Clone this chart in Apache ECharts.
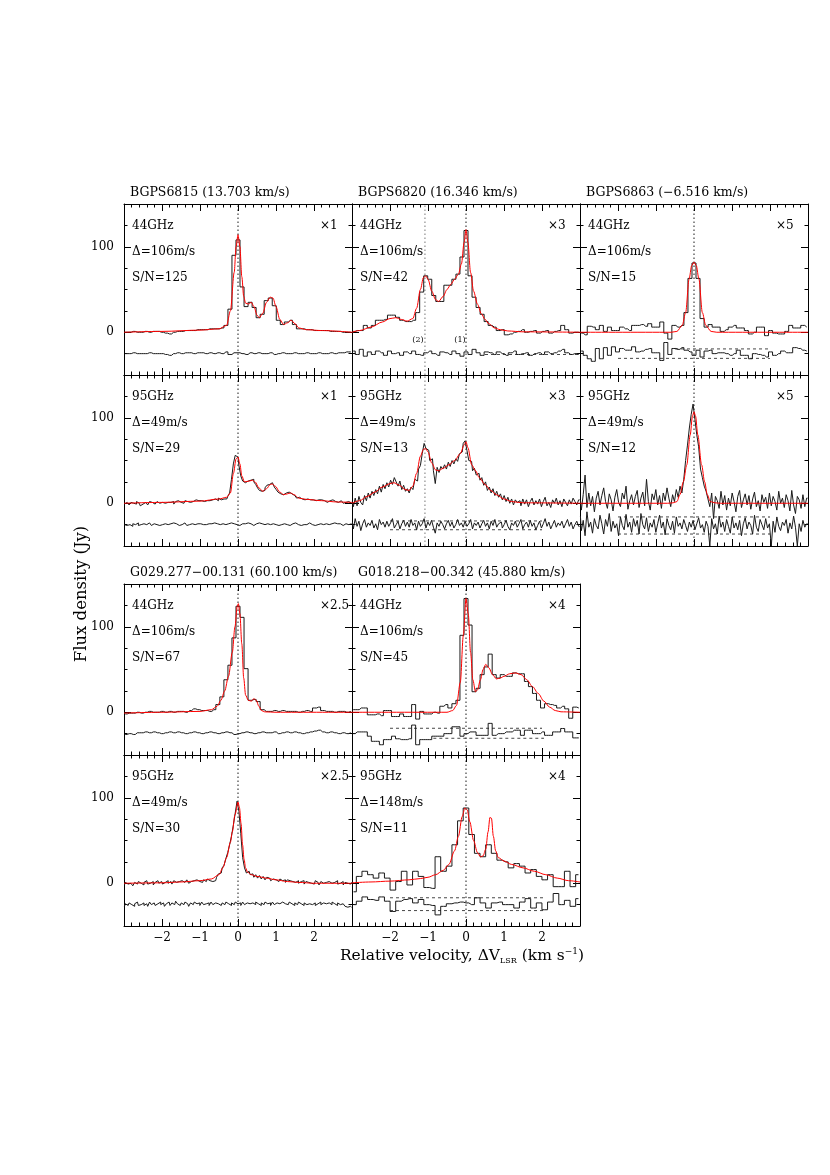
<!DOCTYPE html>
<html><head><meta charset="utf-8">
<script src="https://cdn.jsdelivr.net/npm/echarts@6.0.0/dist/echarts.min.js"></script>
<style>html,body{margin:0;padding:0;background:#fff}#c{width:830px;height:1175px}</style>
</head><body><div id="c"></div>
<script>
// ---- channel grids (start velocity, channel width, km/s) ----
const CH44 = [-2.968, 0.106];
const CH95 = [-2.989, 0.049];
const CH148 = [-2.96, 0.148];
const X_TICKS = [-2, -1, 0, 1, 2];
const Y_LABELS = [0, 100];

// ---- BGPS6815 44GHz ----
const p1Obs = [0,0,1,0,0,1,0,1,1,0, -1,-2,0,1,1,2,2,2,3,3, 3,4,4,4,5,8,27,90,108,53, 30,35,29,17,21,37,40,31,14,9, 12,14,9,4,4,3,3,2,2,2, 2,1,1,1,0,0,0];
const p1Res = [-25,-25,-24,-25,-25,-25,-24,-25,-25,-25, -26,-27,-25,-24,-25,-24,-24,-25,-24,-24, -25,-24,-25,-24,-25,-23,-26,-24,-24,-25, -26,-24,-25,-24,-25,-25,-24,-26,-25,-24, -25,-25,-24,-25,-25,-24,-25,-25,-24,-25, -25,-24,-25,-24,-24,-23,-23];
const p1Fit = [[-3,0],[-2,1],[-1,2.5],[-0.5,4],[-0.3,8],[-0.2,25],[-0.1,70],[-0.05,100],[0,114],[0.05,100],[0.1,65],[0.15,42],[0.2,34],[0.28,33],[0.35,35],[0.42,30],[0.5,20],[0.56,17],[0.65,22],[0.75,35],[0.85,41],[0.92,40],[1.0,30],[1.1,15],[1.2,9],[1.3,11],[1.4,14],[1.5,10],[1.6,5],[1.8,3],[2.2,2],[3,0]];

// ---- BGPS6820 44GHz ----
const p2Obs = [1,2,2,8,5,8,14,14,15,20, 20,17.5,14,12.5,12.5,14,23,47,66,62, 43,36,36,55,55,62,68,88,119,66, 41,29,21,12.5,8,6,2,3,-3,-2, 0,1,3,0,1,2,-1,1,2,-1, 1,2,8,3,-1,0,0];
const p2Res = [-22,-26,-20,-28,-23,-26,-22,-24,-27,-22, -25,-24,-27,-23,-25,-22,-26,-27,-24,-22, -25,-27,-23,-24,-26,-22,-25,-28,-23,-26, -20,-24,-27,-23,-24,-26,-23,-25,-27,-24, -22,-26,-25,-24,-27,-25,-24,-26,-23,-25, -24,-22,-20,-24,-26,-25,-26];
const p2Fit = [[-3,0],[-2.8,2],[-2.5,6],[-2.2,12],[-2.0,16],[-1.85,17],[-1.7,15],[-1.55,13],[-1.4,16],[-1.3,28],[-1.2,50],[-1.12,64],[-1.06,66],[-1.0,62],[-0.9,48],[-0.8,38],[-0.72,36],[-0.6,42],[-0.5,50],[-0.4,56],[-0.3,62],[-0.2,68],[-0.12,80],[-0.05,105],[0,120],[0.05,105],[0.12,70],[0.2,48],[0.3,33],[0.4,22],[0.5,15],[0.6,10],[0.75,5],[0.9,3],[1.1,1.5],[1.5,0.5],[3,0]];

// ---- BGPS6863 44GHz ----
const p3Obs = [-1,-3,7,6,3,8,1,6,2,2, 6,4,2,8,8,9,7,10,6,6, 12,-1,-8,8,6,8,23,63,81,63, 16,6,9,6,6,1,3,6,8,5, 5,2,-2,0,6,6,-4,2,-1,-2, -2,1,8,5,5,8,6];
const p3Res = [-22,-27,-31,-34,-19,-31,-18,-27,-17,-23, -19,-21,-21,-17,-23,-22,-20,-19,-24,-24, -33,-12,-26,-19,-20,-18,-21,-23,-27,-21, -29,-22,-21,-25,-24,-24,-25,-27,-25,-21, -27,-27,-31,-25,-26,-27,-29,-23,-27,-25, -22,-24,-24,-18,-19,-21,-22];
const p3Fit = [[-3,0],[-0.6,0],[-0.45,1],[-0.31,8],[-0.22,23],[-0.13,62],[-0.06,78],[0,82],[0.06,78],[0.13,62],[0.22,23],[0.31,8],[0.45,1],[0.6,0],[3,0]];

// ---- BGPS6815 95GHz ----
const p4Obs = [-1,1,0,-2,1,0,-1,2,0,-3, -1,1,0,-2,2,1,-1,0,2,0, 1,2,0,1,3,1,2,-1,2,3, 1,2,0,3,2,1,3,2,4,2, 3,3,4,2,3,5,3,4,4,5, 3,6,4,5,6,5,8,12,28,46, 56,54,44,32,26,24,26,28,27,28, 25,22,18,15,14,15,18,21,22,24, 22,19,16,13,11,10,10,12,13,12, 11,9,8,6,7,5,6,4,5,6, 4,4,5,3,4,2,4,3,3,1, 3,2,4,2,2,1,3,2,0,1, 2,0,0];
const p4Res = [-25,-26,-24,-25,-27,-24,-25,-23,-26,-25, -24,-26,-25,-23,-25,-26,-24,-25,-24,-26, -25,-23,-24,-25,-26,-24,-23,-25,-24,-26, -24,-25,-23,-24,-26,-25,-24,-23,-25,-24, -26,-24,-25,-23,-25,-24,-26,-24,-23,-25, -24,-25,-23,-24,-25,-26,-24,-23,-25,-24, -25,-23,-26,-24,-25,-24,-23,-25,-24,-26, -25,-24,-23,-25,-24,-25,-26,-24,-25,-23, -24,-25,-24,-26,-25,-23,-24,-25,-24,-26, -24,-25,-23,-25,-24,-26,-25,-24,-25,-23, -24,-25,-26,-24,-25,-24,-23,-25,-24,-26, -25,-24,-25,-23,-24,-25,-24,-26,-25,-24, -25,-25,-24];
const p4Fit = [[-3,0],[-2,1],[-1,2.5],[-0.5,5],[-0.3,7],[-0.2,12],[-0.12,35],[-0.05,52],[0,54],[0.05,46],[0.1,32],[0.17,25],[0.3,26],[0.38,27],[0.45,25],[0.55,18],[0.65,14],[0.75,17],[0.85,22],[0.9,22.5],[0.98,20],[1.1,13],[1.2,10],[1.3,11],[1.38,12],[1.48,10],[1.6,6],[1.8,4.5],[2.2,3],[2.6,1.5],[3,1]];

// ---- BGPS6820 95GHz ----
const p5Obs = [2,-4,6,-3,8,1,-2,9,3,12, 6,14,9,16,11,20,13,22,17,24, 19,27,22,30,25,20,26,16,21,14, 17,12,19,16,28,26,40,44,58,70, 64,62,50,52,38,23,42,36,43,40, 45,40,48,43,50,46,52,49,58,60, 70,73,62,50,49,38,41,33,35,27, 30,21,25,15,19,12,17,9,14,7, 11,4,9,2,7,0,5,-2,4,1, 3,-3,5,-1,4,-4,2,6,-2,3, -1,5,-4,2,7,-3,1,-5,4,0, 6,-2,3,-4,5,1,-3,4,-1,6, 2,-2,4];
const p5Res = [-22,-30,-18,-27,-21,-32,-24,-19,-28,-23, -26,-20,-29,-24,-31,-19,-25,-22,-28,-21, -27,-23,-18,-29,-25,-21,-30,-24,-20,-27, -22,-28,-19,-26,-23,-31,-21,-27,-24,-18, -29,-22,-26,-20,-28,-35,-23,-27,-21,-25, -30,-24,-20,-27,-22,-29,-25,-19,-26,-23, -28,-21,-27,-24,-19,-30,-23,-26,-22,-29, -24,-20,-27,-23,-30,-21,-26,-19,-28,-24, -22,-29,-25,-20,-27,-31,-23,-26,-21,-28, -24,-19,-30,-25,-22,-28,-20,-27,-23,-31, -26,-21,-29,-24,-18,-27,-22,-30,-25,-20, -28,-23,-26,-21,-29,-24,-19,-27,-22,-30, -25,-21,-27];
const p5Fit = [[-3,0],[-2.8,3],[-2.6,8],[-2.4,13],[-2.2,19],[-2.0,23],[-1.9,24],[-1.75,21],[-1.6,16],[-1.5,15],[-1.4,20],[-1.3,35],[-1.2,55],[-1.12,63],[-1.06,64],[-1.0,60],[-0.9,47],[-0.8,39],[-0.72,38],[-0.6,41],[-0.45,45],[-0.3,50],[-0.15,58],[-0.05,68],[0,72],[0.05,65],[0.15,45],[0.25,38],[0.35,30],[0.5,22],[0.65,15],[0.8,10],[1.0,5],[1.2,2],[1.5,0.5],[3,0]];

// ---- BGPS6863 95GHz ----
const p6Obs = [4,-8,10,33,-5,12,-3,8,-10,6, 14,-2,9,18,2,-6,11,4,-9,7, 16,1,-4,12,5,20,-7,3,10,-2, 8,15,-5,6,13,-3,28,2,-8,11, 4,16,-2,9,-6,12,3,18,6,-4, 10,2,16,7,20,12,28,50,68,88, 104,116,98,80,66,40,30,20,14,5, -4,12,-18,8,3,-6,14,-2,9,-8, 6,-3,12,2,-10,8,15,-5,4,11, -2,9,-7,5,13,-4,3,-9,10,1, 7,-6,12,-3,8,2,-8,14,0,6, -5,10,3,-9,15,-2,-12,8,4,-6, 10,-4,6];
const p6Res = [-15,-32,-20,-38,-10,-28,-22,-35,-18,-26, -30,-14,-24,-36,-19,-27,-12,-33,-21,-29, -24,-38,-16,-26,-31,-13,-28,-22,-34,-18, -27,-20,-36,-12,-25,-30,-17,-33,-23,-28, -19,-34,-24,-14,-29,-22,-37,-18,-26,-31, -21,-35,-16,-27,-23,-30,-19,-26,-33,-22, -28,-20,-31,-24,-17,-29,-25,-34,-21,-27, -50,-18,-30,-24,-36,-15,-28,-22,-33,-19, -27,-35,-16,-29,-23,-31,-20,-38,-24,-17, -30,-22,-26,-36,-14,-28,-33,-19,-25,-31, -18,-29,-24,-50,-21,-34,-16,-27,-32,-22, -26,-19,-35,-23,-30,-15,-28,-50,-24,-33, -20,-28,-24];
const p6Fit = [[-3,0],[-0.7,0],[-0.55,0.5],[-0.45,2],[-0.37,10],[-0.28,25],[-0.19,45],[-0.1,80],[-0.04,102],[0,107],[0.04,102],[0.1,80],[0.2,45],[0.28,25],[0.35,10],[0.43,2],[0.55,0.5],[0.7,0],[3,0]];

// ---- G029.277-00.131 44GHz ----
const p7Obs = [-2,-1,-1,0,-1,0,1,0,0,1, 0,1,0,1,1,0,2,4,3,2, 2,1,3,9,18,38,55,87,124,111, 51,14,15,12.5,3,1,1,2,1,2, 1,1,1,0,1,2,1,5,6,2, 1,1,0,1,1,0,1];
const p7Res = [-26,-25,-26,-24,-24,-23,-24,-23,-24,-25, -24,-23,-24,-23,-24,-25,-24,-23,-24,-25, -24,-23,-24,-25,-24,-23,-24,-26,-25,-24, -23,-24,-25,-24,-23,-24,-24,-23,-25,-24, -23,-24,-23,-24,-25,-24,-23,-22,-21,-23, -24,-23,-24,-25,-24,-25,-24];
const p7Fit = [[-3,-1],[-2,0],[-1,1],[-0.7,3],[-0.55,7],[-0.45,14],[-0.35,25],[-0.25,42],[-0.15,70],[-0.08,100],[-0.02,124],[0.01,127],[0.05,115],[0.1,80],[0.15,40],[0.2,20],[0.27,14],[0.35,13],[0.42,16],[0.48,14],[0.55,7],[0.62,2],[0.7,0.5],[1,0],[3,0]];

// ---- G018.218-00.342 44GHz ----
const p8Obs = [3,3,5,5,-3,-3,-2,-4,2,2, -5,-5,-2,-5,-5,9,-8,1,-2,-2, 0,-1,7,9,5,10,14,90,133,102, 24,28,44,53,68,44,40,44,42,42, 46,45,45,36,30,22,14,5,10,9, 8,5,7,4,-7,6,5];
const p8Res = [-25,-23,-23,-23,-28,-34,-34,-38,-32,-32, -28,-31,-32,-32,-31,-15,-38,-32,-32,-32, -28,-28,-28,-25,-25,-17,-17,-28,-25,-23, -23,-27,-27,-27,-13,-27,-25,-25,-23,-23, -21,-21,-27,-21,-21,-25,-25,-23,-27,-27, -23,-23,-19,-23,-23,-30,-30];
const p8Fit = [[-3,0],[-0.5,0],[-0.35,2],[-0.25,8],[-0.15,35],[-0.07,90],[0,133],[0.06,115],[0.12,70],[0.18,38],[0.25,24],[0.3,26],[0.38,38],[0.45,50],[0.52,56],[0.6,52],[0.7,44],[0.8,39],[0.9,40],[1.0,42],[1.15,45],[1.3,46],[1.45,44],[1.6,38],[1.75,30],[1.9,22],[2.05,13],[2.2,6],[2.35,2],[2.5,0.5],[3,0]];

// ---- G029.277-00.131 95GHz ----
const p9Obs = [-2,1,-1,0,2,-3,1,-1,2,0, -2,1,3,-1,0,2,-2,1,3,0, 2,-1,1,3,0,2,-1,3,1,2, 0,3,1,2,4,0,2,3,1,4, 2,3,1,4,2,5,3,2,4,3, 7,11,12,18,21,29,36,45,55,68, 82,96,84,58,30,18,12,14,10,11, 7,10,6,9,5,8,4,7,6,3, 5,4,6,2,5,3,4,1,4,3, 2,4,1,3,0,2,3,-1,2,1, 0,2,-1,3,1,-2,2,0,1,-1, 2,0,-2,1,3,-1,0,2,-2,1, 0,-1,1];
const p9Res = [-27,-24,-26,-23,-25,-27,-24,-22,-26,-25, -23,-26,-24,-27,-22,-25,-23,-26,-24,-22, -25,-23,-27,-24,-22,-26,-23,-25,-21,-24, -26,-23,-25,-22,-24,-27,-23,-25,-22,-24, -23,-26,-22,-25,-24,-23,-26,-22,-25,-23, -24,-22,-26,-23,-25,-22,-24,-26,-23,-25, -22,-24,-23,-26,-22,-25,-23,-24,-26,-23, -25,-22,-24,-26,-23,-25,-22,-24,-23,-26, -22,-25,-23,-24,-26,-22,-24,-23,-25,-22, -24,-26,-23,-25,-22,-24,-26,-23,-25,-24, -22,-25,-23,-26,-24,-22,-25,-23,-24,-26, -23,-25,-22,-24,-26,-23,-25,-24,-22,-27, -28,-27,-28];
const p9Fit = [[-3,0],[-2,0.5],[-1.5,1.5],[-1,3],[-0.7,5],[-0.5,10],[-0.4,18],[-0.3,30],[-0.2,48],[-0.15,60],[-0.08,80],[0,95],[0.04,88],[0.08,70],[0.12,45],[0.16,28],[0.2,18],[0.25,13],[0.35,10],[0.5,8],[0.75,6],[1,4],[1.3,2],[1.6,1],[2,0],[3,0]];

// ---- G018.218-00.342 95GHz ----
const p10Obs = [-10,8,14,10,6,12,6,-8,2,14, -2,14,8,-5,-6,31,14,20,45,73, 88,57,35,31,45,35,27,25,18,23, 20,12,16,8,4,10,-4,-4,14,-4, 10];
const p10Res = [-25,-21,-16,-19,-20,-16,-21,-33,-21,-19, -18,-23,-19,-25,-26,-37,-27,-24,-23,-22, -23,-25,-17,-23,-29,-23,-22,-25,-25,-29, -22,-18,-29,-23,-31,-22,-12,-25,-20,-27, -18];
const p10Fit = [[-3,0.5],[-2.5,1.5],[-2,2.5],[-1.5,4],[-1.2,5.5],[-1,7],[-0.8,10],[-0.6,15],[-0.45,22],[-0.3,38],[-0.2,55],[-0.1,78],[-0.03,88],[0.03,86],[0.1,72],[0.2,50],[0.3,36],[0.38,31],[0.45,32],[0.52,40],[0.58,60],[0.63,77],[0.67,76],[0.72,55],[0.78,38],[0.85,30],[1.0,26],[1.2,22],[1.5,18],[1.8,14],[2.1,10],[2.4,6],[2.7,3],[3,1.5]];

// dashed reference levels [x1, x2, y]
const p2Dash = [[0.5, 3, -26]];
const p3Dash = [[-0.5, 2, -19.5], [-2, 2, -30.5]];
const p5Dash = [[-2, 2, -20.7], [-2, 2, -31]];
const p6Dash = [[-2, 2, -16], [-2, 2, -36]];
const p8Dash = [[-2, 2, -18.7], [-0.86, 2.05, -30.4]];
const p10Dash = [[-2, 2.05, -17], [-2, 2.05, -32]];

const titles = ['BGPS6815 (13.703 km/s)', 'BGPS6820 (16.346 km/s)', 'BGPS6863 (\u22126.516 km/s)', 'G029.277\u221200.131 (60.100 km/s)', 'G018.218\u221200.342 (45.880 km/s)'];

const panels = [
  {col:0,row:0,ch:CH44,obs:p1Obs,res:p1Res,fit:p1Fit,dash:[],vl:[0],freq:'44GHz',d:'\u0394=106m/s',sn:'S/N=125',sc:'\u00d71',title:titles[0]},
  {col:1,row:0,ch:CH44,obs:p2Obs,res:p2Res,fit:p2Fit,dash:p2Dash,vl:[0],vl2:[-1.08],freq:'44GHz',d:'\u0394=106m/s',sn:'S/N=42',sc:'\u00d73',title:titles[1]},
  {col:2,row:0,ch:CH44,obs:p3Obs,res:p3Res,fit:p3Fit,dash:p3Dash,vl:[0],freq:'44GHz',d:'\u0394=106m/s',sn:'S/N=15',sc:'\u00d75',title:titles[2]},
  {col:0,row:1,ch:CH95,obs:p4Obs,res:p4Res,fit:p4Fit,dash:[],vl:[0],freq:'95GHz',d:'\u0394=49m/s',sn:'S/N=29',sc:'\u00d71'},
  {col:1,row:1,ch:CH95,obs:p5Obs,res:p5Res,fit:p5Fit,dash:p5Dash,vl:[0],vl2:[-1.08],freq:'95GHz',d:'\u0394=49m/s',sn:'S/N=13',sc:'\u00d73'},
  {col:2,row:1,ch:CH95,obs:p6Obs,res:p6Res,fit:p6Fit,dash:p6Dash,vl:[0],freq:'95GHz',d:'\u0394=49m/s',sn:'S/N=12',sc:'\u00d75'},
  {col:0,row:2,ch:CH44,obs:p7Obs,res:p7Res,fit:p7Fit,dash:[],vl:[0],freq:'44GHz',d:'\u0394=106m/s',sn:'S/N=67',sc:'\u00d72.5',title:titles[3]},
  {col:1,row:2,ch:CH44,obs:p8Obs,res:p8Res,fit:p8Fit,dash:p8Dash,vl:[0],freq:'44GHz',d:'\u0394=106m/s',sn:'S/N=45',sc:'\u00d74',title:titles[4]},
  {col:0,row:3,ch:CH95,obs:p9Obs,res:p9Res,fit:p9Fit,dash:[],vl:[0],freq:'95GHz',d:'\u0394=49m/s',sn:'S/N=30',sc:'\u00d72.5',xlab:true},
  {col:1,row:3,ch:CH148,obs:p10Obs,res:p10Res,fit:p10Fit,dash:p10Dash,vl:[0],freq:'95GHz',d:'\u0394=148m/s',sn:'S/N=11',sc:'\u00d74',xlab:true}
];

// ---- layout ----
const COLX = [124, 352, 580];
const ROWY = [204, 375, 584, 755];
const PW = 228, PH = 171;
const FONT = '"DejaVu Serif", serif';

const grid = [], xAxis = [], yAxis = [], series = [], graphic = [];
const axLine = {show:true, onZero:false, lineStyle:{color:'#000', width:1}};
panels.forEach((p, k) => {
  const L = COLX[p.col], T = ROWY[p.row];
  grid.push({left:L, top:T, width:PW, height:PH});
  ['bottom','top'].forEach(pos => {
    xAxis.push({type:'value', gridIndex:k, position:pos, min:-3, max:3, interval:1,
      axisLine:axLine, splitLine:{show:false},
      axisTick:{show:true, inside:true, length:7, lineStyle:{color:'#000'}},
      minorTick:{show:true, splitNumber:5, length:3.5, lineStyle:{color:'#000'}},
      axisLabel:{show: pos==='bottom' && !!p.xlab, margin:6, fontFamily:FONT, fontSize:12, color:'#000',
        customValues: X_TICKS, formatter: v => (v<0?'\u2212':'') + Math.abs(v)}});
  });
  ['left','right'].forEach(pos => {
    yAxis.push({type:'value', gridIndex:k, position:pos, min:-50, max:150, interval:25,
      axisLine:axLine, splitLine:{show:false},
      axisTick:{show:true, inside:true, length:3.5, lineStyle:{color:'#000'}},
      axisLabel:{show:false}});
  });
  ['left','right'].forEach(pos => {
    yAxis.push({type:'value', gridIndex:k, position:pos, min:-50, max:150,
      axisLine:{show:false, onZero:false}, splitLine:{show:false},
      axisTick:{show:true, inside:true, length:7, customValues:Y_LABELS, lineStyle:{color:'#000'}},
      axisLabel:{show: pos==='left' && p.col===0, margin:10, fontFamily:FONT, fontSize:12, color:'#000', customValues:Y_LABELS}});
  });
  const xi = 2*k, yi = 4*k;
  const chan = arr => arr.map((y,i) => [+(p.ch[0] + i*p.ch[1]).toFixed(4), y]);
  const base = {type:'line', xAxisIndex:xi, yAxisIndex:yi, symbol:'none', silent:true, animation:false};
  (p.vl||[]).forEach(x => series.push({...base, data:[[x,-50],[x,150]], lineStyle:{color:'#000', width:0.9, type:[1.5,2.5]}}));
  (p.vl2||[]).forEach(x => series.push({...base, data:[[x,-50],[x,150]], lineStyle:{color:'#666', width:0.9, type:[1.5,2.5]}}));
  p.dash.forEach(d => series.push({...base, data:[[d[0],d[2]],[d[1],d[2]]], lineStyle:{color:'#333', width:0.9, type:[3,3]}}));
  series.push({...base, step:'middle', data:chan(p.res), lineStyle:{color:'#1a1a1a', width:1}});
  series.push({...base, step:'middle', data:chan(p.obs), lineStyle:{color:'#1a1a1a', width:1}});
  series.push({...base, smooth:0.3, smoothMonotone:'x', data:p.fit, lineStyle:{color:'#ff0000', width:1}});
  const txt = (x,y,t,extra) => graphic.push({type:'text', x, y, silent:true,
    style:Object.assign({text:t, font:'12px '+FONT, fill:'#000', align:'left', verticalAlign:'middle'}, extra||{})});
  txt(L+8, T+22, p.freq);
  txt(L+8, T+48, p.d);
  txt(L+8, T+74, p.sn);
  txt(L+196, T+22, p.sc);
  if (p.title) txt(L+6, T-11, p.title, {font:'12.5px '+FONT});
});
// component labels in BGPS6820 44GHz panel
graphic.push({type:'text', x:418, y:340, style:{text:'(2)', font:'8px '+FONT, fill:'#000', align:'center', verticalAlign:'middle'}});
graphic.push({type:'text', x:460, y:340, style:{text:'(1)', font:'8px '+FONT, fill:'#000', align:'center', verticalAlign:'middle'}});
// axis titles
graphic.push({type:'text', x:82, y:594, rotation:Math.PI/2,
  style:{text:'Flux density (Jy)', font:'16.5px '+FONT, fill:'#000', align:'center', verticalAlign:'middle'}});
graphic.push({type:'text', x:462, y:956,
  style:{text:'{n|Relative velocity, \u0394V}{s|LSR}{n| (km s}{p|\u22121}{n|)}', align:'center', verticalAlign:'middle',
    rich:{n:{font:'15.5px '+FONT, fill:'#000'}, s:{font:'8px '+FONT, fill:'#000', padding:[9,0,0,0]}, p:{font:'9px '+FONT, fill:'#000', padding:[0,0,8,0]}}}});

const chart = echarts.init(document.getElementById('c'), null, {renderer:'canvas'});
chart.setOption({animation:false, backgroundColor:'#fff', grid, xAxis, yAxis, series, graphic});
</script></body></html>
